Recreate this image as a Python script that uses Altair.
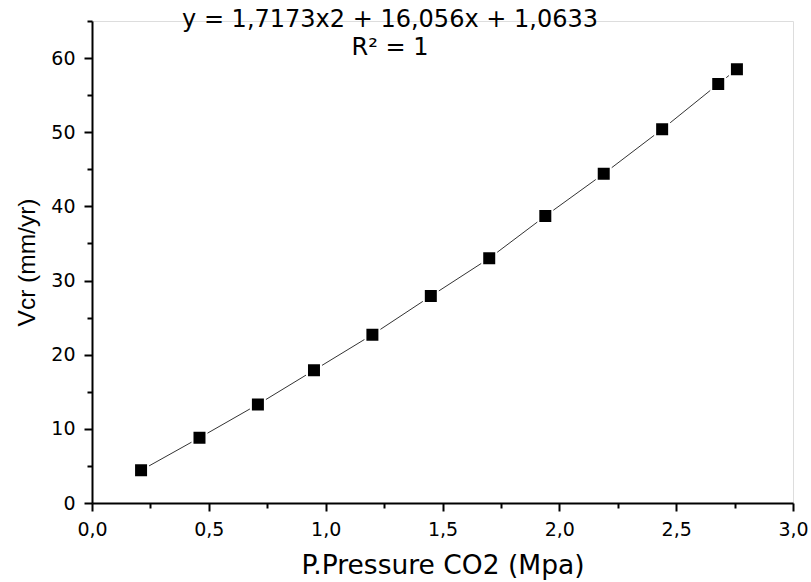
import altair as alt
import pandas as pd

# Partial pressure of CO2 (MPa) and corrosion rate Vcr (mm/yr)
pressure = [0.21, 0.46, 0.71, 0.95, 1.20, 1.45, 1.70, 1.94, 2.19, 2.44, 2.68, 2.76]
vcr = [4.4, 8.8, 13.3, 17.9, 22.7, 27.9, 33.0, 38.7, 44.4, 50.4, 56.5, 58.5]

x_ticks = [0.25 * i for i in range(13)]
y_ticks = [5 * i for i in range(14)]

equation = "y = 1,7173x2 + 16,056x + 1,0633"
r_squared = "R² = 1"

df = pd.DataFrame({"p": pressure, "v": vcr})
FONT = "DejaVu Sans"
W, H = 701, 482

x_axis = alt.Axis(
    values=x_ticks,
    labelExpr="(datum.value * 2) % 1 === 0 ? replace(format(datum.value, '.1f'), '.', ',') : ''",
    tickSize={"condition": {"test": "(datum.value * 2) % 1 === 0", "value": 8}, "value": 5},
    grid=False,
    domainColor="black", domainWidth=2,
    tickColor="black", tickWidth=2,
    labelFont=FONT, labelFontSize=19, labelColor="black", labelPadding=9,
    labelFlush=False, labelOverlap=False,
    title="P.Pressure CO2 (Mpa)",
    titleFont=FONT, titleFontSize=26.5, titleFontWeight="normal", titleColor="black",
    titlePadding=13,
)
y_axis = alt.Axis(
    values=y_ticks,
    labelExpr="datum.value % 10 === 0 ? format(datum.value, 'd') : ''",
    tickSize={"condition": {"test": "datum.value % 10 === 0", "value": 8}, "value": 5},
    grid=False,
    domainColor="black", domainWidth=2,
    tickColor="black", tickWidth=2,
    labelFont=FONT, labelFontSize=19, labelColor="black", labelPadding=9,
    labelFlush=False, labelOverlap=False,
    title="Vcr (mm/yr)",
    titleFont="Liberation Sans", titleFontSize=24.5, titleFontWeight="normal", titleColor="black",
    titlePadding=11,
)

x_enc = alt.X("p:Q", scale=alt.Scale(domain=[0, 3.0], nice=False, zero=False), axis=x_axis)
y_enc = alt.Y("v:Q", scale=alt.Scale(domain=[0, 65], nice=False), axis=y_axis)

base = alt.Chart(df)
line = base.mark_line(color="#333333", strokeWidth=1).encode(x=x_enc, y=y_enc)
points = base.mark_square(
    size=196, color="black", opacity=1, filled=True,
    stroke="white", strokeWidth=2, strokeOpacity=1,
).encode(x=x_enc, y=y_enc)


def label(text, px, py):
    return alt.Chart(pd.DataFrame({"t": [text]})).mark_text(
        font=FONT, fontSize=24, color="black", align="center", baseline="middle"
    ).encode(text="t:N", x=alt.value(px), y=alt.value(py))


# regression equation annotation above the curve
eq1 = label(equation, 298, -1)
eq2 = label(r_squared, 298, 27)

chart = alt.layer(line, points, eq1, eq2).properties(
    width=W, height=H,
    autosize=alt.AutoSizeParams(type="none"),
    padding={"left": 92, "top": 21, "right": 18, "bottom": 79},
).configure_view(stroke=None).configure(background="white")

chart.save("out.html", embed_options={"renderer": "svg", "actions": False})
